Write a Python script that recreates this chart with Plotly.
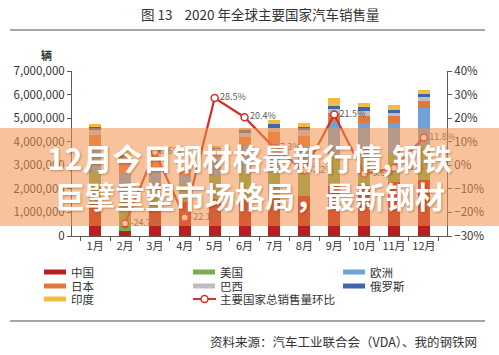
import plotly.graph_objects as go

months = ["1月", "2月", "3月", "4月", "5月", "6月", "7月", "8月", "9月", "10月", "11月", "12月"]
# sales in vehicles
china  = [1400000, 200000, 1100000, 1450000, 1550000, 1650000, 1550000, 1710000, 2120000, 2160000, 2280000, 2370000]
usa    = [1350000, 1400000, 1050000, 750000, 1050000, 1100000, 1250000, 1300000, 1300000, 1350000, 1200000, 1450000]
europe = [1100000, 1050000, 700000, 350000, 700000, 1050000, 1150000, 850000, 1450000, 1300000, 1300000, 1600000]
japan  = [450000, 450000, 500000, 250000, 300000, 400000, 450000, 400000, 350000, 300000, 300000, 310000]
brazil = [200000, 200000, 180000, 60000, 100000, 160000, 200000, 220000, 150000, 200000, 130000, 180000]
russia = [120000, 130000, 160000, 50000, 70000, 120000, 140000, 140000, 130000, 150000, 130000, 120000]
india  = [150000, 160000, 100000, 50000, 30000, 100000, 170000, 180000, 340000, 170000, 210000, 170000]
mom    = [None, -24.7, 5.6, -22.1, 28.5, 20.4, 7.3, -2.2, 21.5, -3.6, -1.2, 11.8]

series = [("中国", china, "#B91F1C"), ("美国", usa, "#78AE4E"), ("欧洲", europe, "#6FA3D6"),
          ("日本", japan, "#E07A3C"), ("巴西", brazil, "#BEBEBE"), ("俄罗斯", russia, "#3F67B0"),
          ("印度", india, "#F2BC42")]
line_name = "主要国家总销售量环比"
line_color = "#D4302A"

FONT = "Noto Sans CJK SC"
W, H = 499, 355
L, R, T, B = 72, 52, 71, 119
pw, ph = W - L - R, H - T - B

def px_x(x):
    return (x - L) / pw

def px_y(y):
    return (H - B - y) / ph

fig = go.Figure()
for name, vals, col in series:
    fig.add_trace(go.Bar(x=months, y=vals, name=name, marker_color=col,
                         marker_line_width=0, showlegend=False))

fig.add_trace(go.Scatter(x=months, y=mom, yaxis="y2", name=line_name,
                         mode="lines+markers+text", showlegend=False,
                         line=dict(color=line_color, width=2.2),
                         marker=dict(size=7, color="white", line=dict(color=line_color, width=1.5)),
                         text=[("" if v is None else f"{v:.1f}%") for v in mom],
                         textposition="middle right",
                         textfont=dict(size=9, color="#595959", family=FONT),
                         cliponaxis=False))

fig.update_layout(
    width=W, height=H, margin=dict(l=L, r=R, t=T, b=B),
    paper_bgcolor="white", plot_bgcolor="white",
    barmode="stack", bargap=0.6, showlegend=False,
    font=dict(family=FONT, color="#333333", size=12),
    xaxis=dict(showline=True, linecolor="#595959", linewidth=1, ticks="outside",
               tickson="boundaries", ticklen=4, tickcolor="#595959", tickangle=0,
               tickfont=dict(size=11, color="#333"), showgrid=False),
    yaxis=dict(range=[0, 7000000], dtick=1000000, tickformat=",", showline=True,
               linecolor="#595959", ticks="outside", ticklen=4, tickcolor="#595959",
               showgrid=False, zeroline=False, tickfont=dict(size=11.5, color="#333")),
    yaxis2=dict(range=[-30, 40], dtick=10, ticksuffix="%", overlaying="y", side="right",
                showline=True, linecolor="#595959", ticks="outside", ticklen=4,
                tickcolor="#595959", showgrid=False, zeroline=False,
                tickfont=dict(size=11.5, color="#333")),
)

shapes = [
    dict(type="line", xref="paper", yref="paper", x0=px_x(10), x1=px_x(485), y0=px_y(30), y1=px_y(30),
         line=dict(color="#A6A6A6", width=2)),
    dict(type="line", xref="paper", yref="paper", x0=px_x(10), x1=px_x(485), y0=px_y(321), y1=px_y(321),
         line=dict(color="#A6A6A6", width=2)),
]
annotations = [
    dict(text="图 13    2020 年全球主要国家汽车销售量", xref="paper", yref="paper", x=px_x(260), y=px_y(14),
         showarrow=False, font=dict(size=13.5, color="#333", family=FONT), xanchor="center", yanchor="middle"),
    dict(text="<b>辆</b>", xref="paper", yref="paper", x=px_x(46), y=px_y(55),
         showarrow=False, font=dict(size=11, color="#333", family=FONT), xanchor="center", yanchor="middle"),
    dict(text="资料来源：汽车工业联合会（VDA）、我的钢铁网", xref="paper", yref="paper", x=px_x(479), y=px_y(341),
         showarrow=False, font=dict(size=12.5, color="#333", family=FONT), xanchor="right", yanchor="middle"),
]

# manual legend: 3 columns x 3 rows, order matching reference
legend_items = [(n, c, "bar") for n, _, c in series] + [(line_name, line_color, "line")]
col_x = [44, 193, 343]
row_y = [272, 286, 299]
for i, (name, col, kind) in enumerate(legend_items):
    cx = col_x[i % 3]
    cy = row_y[i // 3]
    if kind == "bar":
        shapes.append(dict(type="rect", xref="paper", yref="paper", x0=px_x(cx), x1=px_x(cx + 22),
                           y0=px_y(cy + 2.5), y1=px_y(cy - 2.5), fillcolor=col, line=dict(width=0)))
    else:
        shapes.append(dict(type="line", xref="paper", yref="paper", x0=px_x(cx), x1=px_x(cx + 23),
                           y0=px_y(cy), y1=px_y(cy), line=dict(color=col, width=2)))
        shapes.append(dict(type="circle", xref="paper", yref="paper", x0=px_x(cx + 8), x1=px_x(cx + 15),
                           y0=px_y(cy + 3.5), y1=px_y(cy - 3.5), fillcolor="white",
                           line=dict(color=col, width=1.5)))
    annotations.append(dict(text=name, xref="paper", yref="paper", x=px_x(cx + 25), y=px_y(cy),
                            showarrow=False, xanchor="left", yanchor="middle",
                            font=dict(size=11.5, color="#333", family=FONT)))

# overlay banner
shapes.append(dict(type="rect", xref="paper", yref="paper", x0=px_x(0), x1=px_x(499), y0=px_y(226), y1=px_y(128),
                   fillcolor="rgba(243,146,75,0.55)", line=dict(width=0), layer="above"))
for txt, x0, y0 in [("<b>12月今日钢材格最新行情,钢铁</b>", 45, 157), ("<b>巨擘重塑市场格局，最新钢材</b>", 53, 195)]:
    annotations.append(dict(text=txt, xref="paper", yref="paper", x=px_x(x0), y=px_y(y0),
                            showarrow=False, xanchor="left", yanchor="middle",
                            font=dict(size=30, color="white", family=FONT,
                                      shadow="1px 1px 2px rgba(90,40,0,0.35)")))

fig.update_layout(shapes=shapes, annotations=annotations)
fig.write_html("out.html", config={"displayModeBar": False},
               post_script="document.body.style.margin='0';document.body.style.overflow='hidden';")
